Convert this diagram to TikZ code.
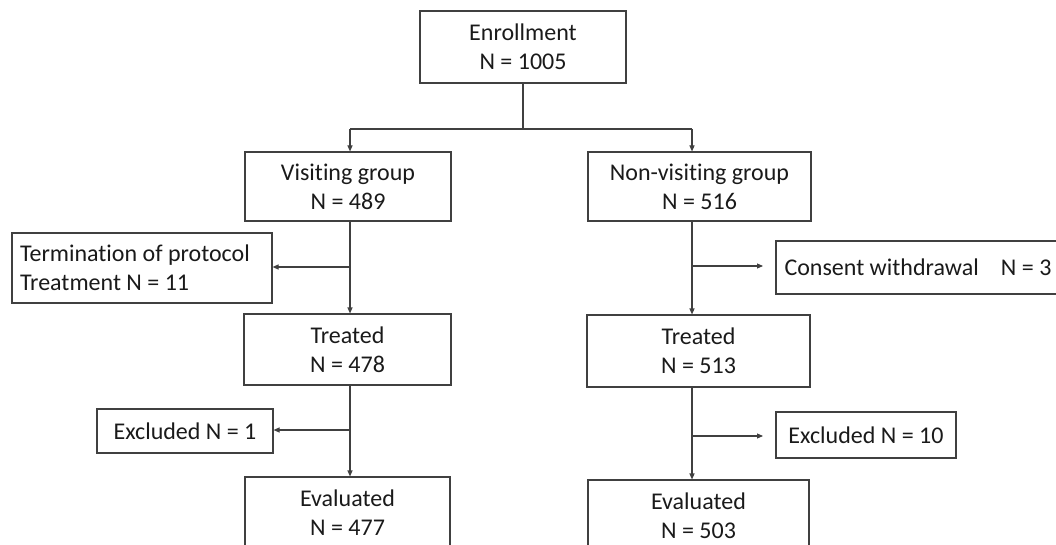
\documentclass[tikz,border=0pt]{standalone}
\usepackage{fontspec}
\setmainfont{Carlito}[RawFeature={-liga;-dlig;-clig}]
\usetikzlibrary{arrows.meta}
\definecolor{ln}{HTML}{404040}
\definecolor{tx}{HTML}{1A1A1A}
\begin{document}
\begin{tikzpicture}[x=1pt,y=-1pt,
  box/.style={draw=ln,line width=1.1pt,text=tx,align=center,inner sep=0pt,
    font=\fontsize{24}{29}\selectfont},
  conn/.style={draw=ln,line width=1.1pt},
  arr/.style={conn,-{Triangle[length=6pt,width=5pt]}}]
\useasboundingbox (0,0) rectangle (1056,545);
\clip (0,0) rectangle (1056,545);
\node[box,minimum width=206pt,minimum height=72pt] (enr) at (523,47) {Enrollment\\N = 1005};
\node[box,minimum width=206pt,minimum height=69pt] (vis) at (348,186.5) {Visiting group\\N = 489};
\node[box,minimum width=223pt,minimum height=69pt] (non) at (699.5,186.5) {Non-visiting group\\N = 516};
\node[box,minimum width=260pt,minimum height=70pt,align=flush left,text width=244pt] (term) at (142,268) {Termination of protocol\\Treatment N = 11};
\node[box,minimum width=300pt,minimum height=53pt,align=flush left,text width=283pt] (cons) at (926,267.5) {Consent withdrawal\hspace{0.7em} N = 3};
\node[box,minimum width=207pt,minimum height=71pt] (tl) at (347.5,349.5) {Treated\\N = 478};
\node[box,minimum width=223pt,minimum height=72pt] (tr) at (698.5,351) {Treated\\N = 513};
\node[box,minimum width=176pt,minimum height=44pt] (exa) at (185,431) {Excluded N = 1};
\node[box,minimum width=180pt,minimum height=46pt] (exb) at (866,435) {Excluded N = 10};
\node[box,minimum width=205pt,minimum height=72pt] (eva) at (347.5,513) {Evaluated\\N = 477};
\node[box,minimum width=221pt,minimum height=72pt] (evb) at (698.5,516) {Evaluated\\N = 503};
% coordinates
\coordinate (j0) at (523,129);
\coordinate (jl) at (350,129);
\coordinate (jr) at (692,129);
\coordinate (bl1) at (350,267);
\coordinate (bl2) at (350,430);
\coordinate (br1) at (692,266);
\coordinate (br2) at (692,436);
\coordinate (er1) at (763,266);
\coordinate (er2) at (763,436);
% connectors
\draw[conn] (enr.south) -- (j0);
\draw[conn] (jl) -- (jr);
\draw[arr] (jl) -- (jl |- vis.north);
\draw[arr] (jr) -- (jr |- non.north);
\draw[arr] (jl |- vis.south) -- (jl |- tl.north);
\draw[arr] (bl1) -- (bl1 -| term.east);
\draw[arr] (jl |- tl.south) -- (jl |- eva.north);
\draw[arr] (bl2) -- (bl2 -| exa.east);
\draw[arr] (jr |- non.south) -- (jr |- tr.north);
\draw[arr] (br1) -- (er1);
\draw[arr] (jr |- tr.south) -- (jr |- evb.north);
\draw[arr] (br2) -- (er2);
\end{tikzpicture}
\end{document}
